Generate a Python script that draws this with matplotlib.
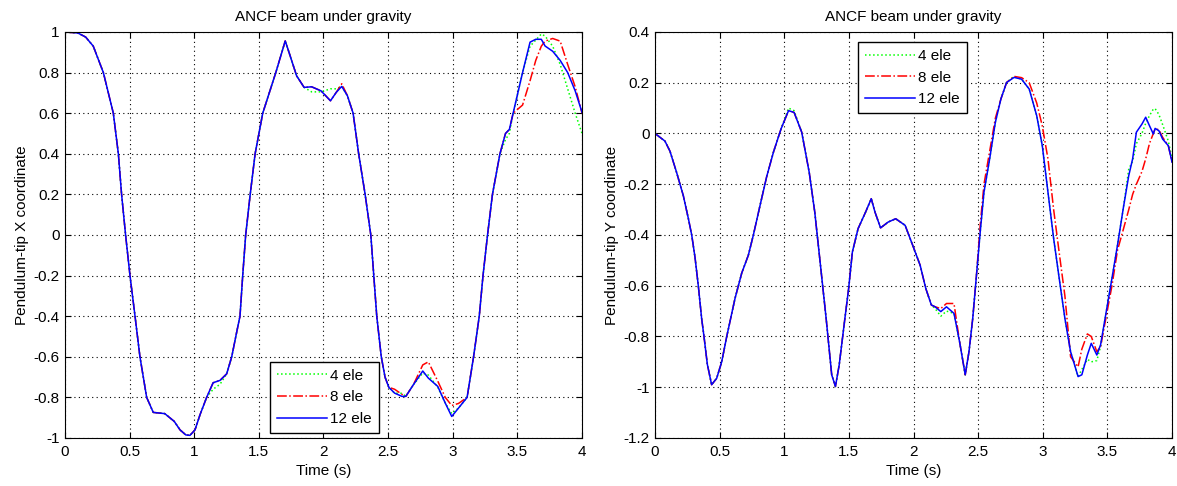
import matplotlib
matplotlib.use('Agg')
import matplotlib.pyplot as plt
from matplotlib.ticker import FuncFormatter

plt.rcParams['font.family'] = ['Liberation Sans', 'DejaVu Sans']
plt.rcParams['axes.unicode_minus'] = False

# Data (pendulum tip X coordinate)
t_x = [0.0, 0.1, 0.16, 0.219, 0.297, 0.374, 0.413, 0.438, 0.469, 0.503,
       0.542, 0.58, 0.632, 0.683, 0.772, 0.845, 0.89, 0.935, 0.967, 1.006,
       1.045, 1.096, 1.146, 1.2, 1.251, 1.29, 1.328, 1.354, 1.375, 1.398,
       1.433, 1.471, 1.53, 1.631, 1.704, 1.733, 1.792, 1.85, 1.908, 1.981,
       2.054, 2.098, 2.141, 2.185, 2.229, 2.272, 2.322, 2.366, 2.389, 2.412,
       2.447, 2.476, 2.505, 2.55, 2.607, 2.637, 2.695, 2.768, 2.811, 2.884,
       2.942, 2.992, 3.044, 3.111, 3.161, 3.205, 3.234, 3.269, 3.307, 3.365,
       3.408, 3.438, 3.467, 3.54, 3.598, 3.642, 3.685, 3.714, 3.773, 3.831,
       3.889, 3.947, 4.0]
x_12ele = [1.0, 0.995, 0.975, 0.93, 0.8, 0.6, 0.4, 0.2, 0.0, -0.2,
           -0.4, -0.6, -0.8, -0.874, -0.88, -0.918, -0.96, -0.985, -0.987, -0.96,
           -0.885, -0.8, -0.728, -0.716, -0.684, -0.6, -0.48, -0.4, -0.2, 0.0,
           0.2, 0.4, 0.6, 0.8, 0.956, 0.90, 0.784, 0.727, 0.73, 0.71,
           0.661, 0.702, 0.732, 0.686, 0.6, 0.4, 0.2, 0.0, -0.2, -0.4,
           -0.6, -0.7, -0.75, -0.779, -0.795, -0.795, -0.738, -0.67, -0.705, -0.746,
           -0.828, -0.894, -0.853, -0.8, -0.6, -0.4, -0.2, 0.0, 0.2, 0.4,
           0.5, 0.52, 0.6, 0.8, 0.95, 0.964, 0.964, 0.931, 0.905, 0.86,
           0.80, 0.71, 0.604]
x_8ele = [1.0, 0.995, 0.975, 0.93, 0.8, 0.6, 0.4, 0.2, 0.0, -0.2,
          -0.4, -0.6, -0.8, -0.874, -0.88, -0.918, -0.96, -0.985, -0.987, -0.96,
          -0.885, -0.8, -0.728, -0.716, -0.684, -0.6, -0.48, -0.4, -0.2, 0.0,
          0.2, 0.4, 0.6, 0.8, 0.956, 0.90, 0.784, 0.727, 0.73, 0.71,
          0.661, 0.702, 0.745, 0.686, 0.6, 0.4, 0.2, 0.0, -0.2, -0.4,
          -0.6, -0.7, -0.75, -0.76, -0.785, -0.795, -0.738, -0.64, -0.625, -0.72,
          -0.8, -0.84, -0.83, -0.8, -0.6, -0.4, -0.2, 0.0, 0.2, 0.4,
          0.5, 0.52, 0.6, 0.64, 0.76, 0.86, 0.93, 0.955, 0.968, 0.955,
          0.84, 0.73, 0.6]
x_4ele = [1.0, 0.995, 0.975, 0.93, 0.8, 0.6, 0.4, 0.2, 0.0, -0.2,
          -0.4, -0.6, -0.8, -0.874, -0.88, -0.918, -0.96, -0.985, -0.987, -0.96,
          -0.885, -0.8, -0.76, -0.735, -0.684, -0.6, -0.48, -0.4, -0.2, 0.0,
          0.2, 0.4, 0.6, 0.8, 0.956, 0.90, 0.784, 0.727, 0.705, 0.705,
          0.72, 0.72, 0.732, 0.686, 0.6, 0.4, 0.2, 0.0, -0.2, -0.4,
          -0.6, -0.7, -0.75, -0.779, -0.78, -0.795, -0.738, -0.68, -0.69, -0.75,
          -0.828, -0.88, -0.853, -0.8, -0.6, -0.4, -0.2, 0.0, 0.2, 0.4,
          0.47, 0.5, 0.6, 0.8, 0.93, 0.96, 0.99, 0.98, 0.93, 0.84,
          0.72, 0.6, 0.5]

# Pendulum tip Y coordinate
t_y = [0.0, 0.077, 0.116, 0.168, 0.219, 0.258, 0.284, 0.31, 0.335, 0.361,
       0.379, 0.405, 0.438, 0.477, 0.516, 0.555, 0.619, 0.671, 0.722, 0.761,
       0.812, 0.864, 0.916, 0.975, 1.033, 1.076, 1.135,
       1.193, 1.236, 1.28, 1.324, 1.367, 1.396, 1.425, 1.469, 1.498, 1.527,
       1.571, 1.629, 1.673, 1.702, 1.745, 1.804, 1.862, 1.935, 1.993, 2.051,
       2.095, 2.138, 2.167, 2.211, 2.255, 2.313, 2.356, 2.4, 2.429, 2.458,
       2.487, 2.516, 2.545, 2.589, 2.633, 2.676, 2.72, 2.778, 2.836, 2.895,
       2.953, 2.996, 3.04, 3.084, 3.127, 3.171, 3.215, 3.273, 3.302, 3.345,
       3.375, 3.418, 3.447, 3.491, 3.535, 3.578, 3.622, 3.665, 3.695, 3.724,
       3.767, 3.796, 3.825, 3.855, 3.869, 3.898, 3.927, 3.971, 4.0]
y_12ele = [0.0, -0.03, -0.07, -0.155, -0.245, -0.335, -0.4, -0.49, -0.6, -0.73,
           -0.8, -0.91, -0.99, -0.965, -0.9, -0.8, -0.65, -0.55, -0.48, -0.4,
           -0.285, -0.17, -0.074, 0.018, 0.09, 0.083, 0.005,
           -0.153, -0.31, -0.519, -0.729, -0.951, -0.997, -0.912, -0.729, -0.611, -0.467,
           -0.375, -0.31, -0.257, -0.31, -0.372, -0.349, -0.336, -0.362, -0.44, -0.519,
           -0.611, -0.676, -0.683, -0.702, -0.683, -0.709, -0.82, -0.951, -0.86, -0.729,
           -0.558, -0.388, -0.231, -0.1, 0.044, 0.136, 0.201, 0.221, 0.214, 0.175,
           0.07, -0.048, -0.231, -0.414, -0.571, -0.729, -0.86, -0.958, -0.951, -0.873,
           -0.827, -0.873, -0.833, -0.702, -0.571, -0.44, -0.297, -0.166, -0.1, 0.005,
           0.037, 0.064, 0.031, -0.002, 0.02, 0.011, -0.022, -0.048, -0.113]
y_8ele = [0.0, -0.03, -0.07, -0.155, -0.245, -0.335, -0.4, -0.49, -0.6, -0.73,
          -0.8, -0.91, -0.99, -0.965, -0.9, -0.8, -0.65, -0.55, -0.48, -0.4,
          -0.285, -0.17, -0.074, 0.018, 0.09, 0.083, 0.005,
          -0.153, -0.31, -0.519, -0.729, -0.951, -0.997, -0.912, -0.729, -0.611, -0.467,
          -0.375, -0.31, -0.257, -0.31, -0.372, -0.349, -0.336, -0.362, -0.44, -0.519,
          -0.611, -0.676, -0.683, -0.69, -0.67, -0.67, -0.82, -0.951, -0.86, -0.729,
          -0.558, -0.36, -0.2, -0.07, 0.06, 0.136, 0.201, 0.225, 0.22, 0.2,
          0.12, 0.03, -0.1, -0.3, -0.47, -0.64, -0.88, -0.92, -0.85, -0.79,
          -0.8, -0.86, -0.84, -0.72, -0.6, -0.46, -0.38, -0.3, -0.24, -0.2,
          -0.15, -0.1, -0.04, 0.0, 0.018, 0.015, -0.015, -0.048, -0.113]
y_4ele = [0.0, -0.03, -0.07, -0.155, -0.245, -0.335, -0.4, -0.49, -0.6, -0.73,
          -0.8, -0.91, -0.99, -0.965, -0.9, -0.8, -0.65, -0.55, -0.48, -0.4,
          -0.285, -0.17, -0.074, 0.018, 0.1, 0.09, 0.005,
          -0.153, -0.31, -0.519, -0.729, -0.951, -0.997, -0.912, -0.729, -0.611, -0.467,
          -0.375, -0.31, -0.257, -0.31, -0.372, -0.349, -0.336, -0.362, -0.44, -0.519,
          -0.611, -0.676, -0.69, -0.72, -0.70, -0.709, -0.82, -0.951, -0.86, -0.729,
          -0.558, -0.388, -0.231, -0.1, 0.044, 0.136, 0.201, 0.225, 0.214, 0.175,
          0.07, -0.048, -0.231, -0.414, -0.571, -0.729, -0.86, -0.958, -0.93, -0.89,
          -0.9, -0.895, -0.84, -0.702, -0.571, -0.44, -0.297, -0.14, -0.11, -0.04,
          0.0, 0.04, 0.07, 0.096, 0.098, 0.075, 0.035, -0.03, -0.1]

labels = ['4 ele', '8 ele', '12 ele']
title = 'ANCF beam under gravity'

fig = plt.figure(figsize=(11.77, 4.86), dpi=100)
ax1 = fig.add_axes([0.0552, 0.0988, 0.4393, 0.8354])
ax2 = fig.add_axes([0.5565, 0.0988, 0.4393, 0.8354])

fmt = FuncFormatter(lambda v, p: '%g' % round(v, 6))


def style(ax, ylim, yticks):
    ax.set_xlim(0, 4)
    ax.set_ylim(*ylim)
    ax.set_xticks([0, 0.5, 1, 1.5, 2, 2.5, 3, 3.5, 4])
    ax.set_yticks(yticks)
    ax.xaxis.set_major_formatter(fmt)
    ax.yaxis.set_major_formatter(fmt)
    ax.tick_params(direction='in', top=True, right=True, length=4, width=0.8,
                   labelsize=11, pad=4)
    ax.tick_params(axis='x', pad=5)
    ax.grid(True, color='black', linestyle=(0, (1, 3)), linewidth=0.8)
    for s in ax.spines.values():
        s.set_linewidth(0.8)
    ax.set_title(title, fontsize=11, pad=8)
    ax.set_xlabel('Time (s)', fontsize=11, labelpad=4)


ax1.plot(t_x, x_4ele, color='#00ff00', linestyle=':', linewidth=1.1, label=labels[0])
ax1.plot(t_x, x_8ele, color='red', linestyle='-.', linewidth=1.1, label=labels[1])
ax1.plot(t_x, x_12ele, color='blue', linestyle='-', linewidth=1.1, label=labels[2])
style(ax1, (-1, 1), [-1, -0.8, -0.6, -0.4, -0.2, 0, 0.2, 0.4, 0.6, 0.8, 1])
ax1.set_ylabel('Pendulum-tip X coordinate', fontsize=11, labelpad=3)

ax2.plot(t_y, y_4ele, color='#00ff00', linestyle=':', linewidth=1.1, label=labels[0])
ax2.plot(t_y, y_8ele, color='red', linestyle='-.', linewidth=1.1, label=labels[1])
ax2.plot(t_y, y_12ele, color='blue', linestyle='-', linewidth=1.1, label=labels[2])
style(ax2, (-1.2, 0.4), [-1.2, -1, -0.8, -0.6, -0.4, -0.2, 0, 0.2, 0.4])
ax2.set_ylabel('Pendulum-tip Y coordinate', fontsize=11, labelpad=3)

leg_kw = dict(fontsize=11, frameon=True, fancybox=False, edgecolor='black',
              framealpha=1, handlelength=3.3, handletextpad=0.2, borderpad=0.45,
              labelspacing=0.5, borderaxespad=0)
l1 = ax1.legend(loc='lower left', bbox_to_anchor=(0.3965, 0.0123), **leg_kw)
l2 = ax2.legend(loc='upper left', bbox_to_anchor=(0.3926, 0.975), **leg_kw)
for leg in (l1, l2):
    leg.get_frame().set_linewidth(1.0)

fig.savefig('out.png', dpi=100)
